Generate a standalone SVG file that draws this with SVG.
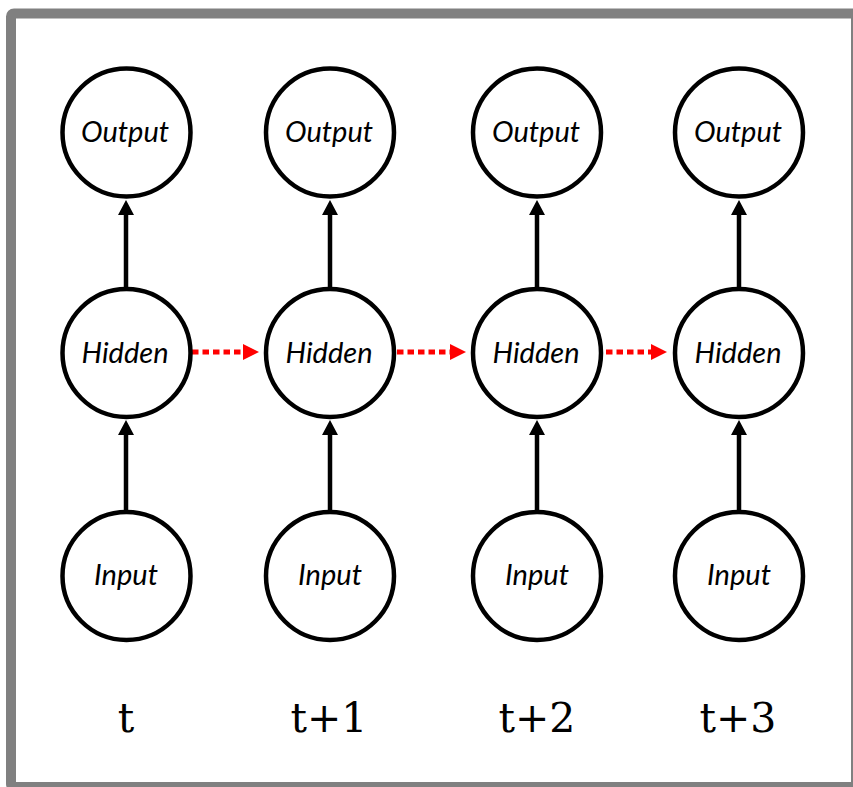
<svg xmlns="http://www.w3.org/2000/svg" width="853" height="787" viewBox="0 0 853 787">
  <style>
    .node { fill: #ffffff; stroke: #000000; stroke-width: 4.5; }
    .lbl { font-family: Lato, "Open Sans", sans-serif; font-style: italic; font-size: 29px; fill: #000000; text-anchor: middle; }
    .step { font-family: "DejaVu Serif", "Liberation Serif", serif; font-size: 41px; fill: #000000; text-anchor: middle; }
    .up { stroke: #000000; stroke-width: 4.5; fill: none; marker-end: url(#headBlack); }
    .rec { stroke: #ff0000; stroke-width: 5; stroke-dasharray: 6.5 4; fill: none; marker-end: url(#headRed); }
  </style>
  <defs>
    <marker id="headBlack" viewBox="0 0 15 16" refX="0" refY="8" markerWidth="15" markerHeight="16" markerUnits="userSpaceOnUse" orient="auto">
      <path d="M0,0 L15,8 L0,16 Z" fill="#000000"/>
    </marker>
    <marker id="headRed" viewBox="0 0 16 16" refX="0" refY="8" markerWidth="16" markerHeight="16" markerUnits="userSpaceOnUse" orient="auto">
      <path d="M0,0 L16,8 L0,16 Z" fill="#ff0000"/>
    </marker>
  </defs>

  <rect width="853" height="787" fill="#ffffff"/>
  <!-- outer frame -->
  <rect x="11" y="13.5" width="845" height="773.5" rx="3" fill="none" stroke="#808080" stroke-width="10"/>

  <!-- connectors -->
  <g id="connectors">
    <line class="up" x1="126" y1="510" x2="126" y2="435"/>
    <line class="up" x1="126" y1="287" x2="126" y2="215"/>
    <line class="up" x1="330" y1="510" x2="330" y2="435"/>
    <line class="up" x1="330" y1="287" x2="330" y2="215"/>
    <line class="up" x1="537" y1="510" x2="537" y2="435"/>
    <line class="up" x1="537" y1="287" x2="537" y2="215"/>
    <line class="up" x1="739" y1="510" x2="739" y2="435"/>
    <line class="up" x1="739" y1="287" x2="739" y2="215"/>
    <line class="rec" x1="192" y1="352" x2="243" y2="352"/>
    <line class="rec" x1="397" y1="352" x2="450" y2="352"/>
    <line class="rec" x1="606" y1="352" x2="651" y2="352"/>
  </g>

  <!-- column t -->
  <g id="output-t"><circle class="node" cx="126.5" cy="132.5" r="64"/><text class="lbl" x="125" y="142">Output</text></g>
  <g id="hidden-t"><circle class="node" cx="126.5" cy="353" r="64"/><text class="lbl" x="125" y="363">Hidden</text></g>
  <g id="input-t"><circle class="node" cx="126.5" cy="576" r="64"/><text class="lbl" x="126" y="585">Input</text></g>

  <!-- column t+1 -->
  <g id="output-t1"><circle class="node" cx="330" cy="132.5" r="64"/><text class="lbl" x="329" y="142">Output</text></g>
  <g id="hidden-t1"><circle class="node" cx="330" cy="353" r="64"/><text class="lbl" x="329" y="363">Hidden</text></g>
  <g id="input-t1"><circle class="node" cx="330" cy="576" r="64"/><text class="lbl" x="330" y="585">Input</text></g>

  <!-- column t+2 -->
  <g id="output-t2"><circle class="node" cx="537" cy="132.5" r="64"/><text class="lbl" x="536" y="142">Output</text></g>
  <g id="hidden-t2"><circle class="node" cx="537" cy="353" r="64"/><text class="lbl" x="536" y="363">Hidden</text></g>
  <g id="input-t2"><circle class="node" cx="537" cy="576" r="64"/><text class="lbl" x="537" y="585">Input</text></g>

  <!-- column t+3 -->
  <g id="output-t3"><circle class="node" cx="739" cy="132.5" r="64"/><text class="lbl" x="738" y="142">Output</text></g>
  <g id="hidden-t3"><circle class="node" cx="739" cy="353" r="64"/><text class="lbl" x="738" y="363">Hidden</text></g>
  <g id="input-t3"><circle class="node" cx="739" cy="576" r="64"/><text class="lbl" x="739" y="585">Input</text></g>

  <!-- time step labels -->
  <g id="steps">
    <text class="step" x="126" y="732">t</text>
    <text class="step" x="329" y="732">t+1</text>
    <text class="step" x="537" y="732">t+2</text>
    <text class="step" x="738" y="732">t+3</text>
  </g>
</svg>
